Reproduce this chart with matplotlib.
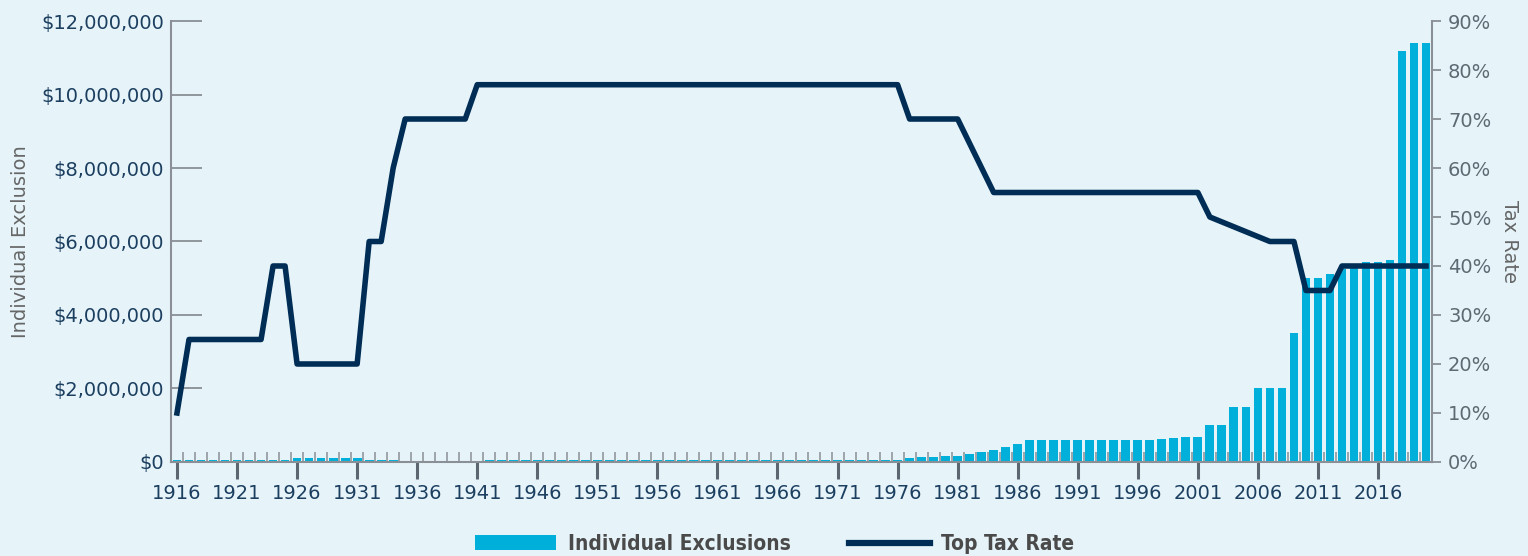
import numpy as np
import matplotlib.pyplot as plt
from matplotlib.ticker import FuncFormatter, FixedLocator
from matplotlib.patches import Patch
from matplotlib.lines import Line2D

# Years 1916-2020
years = list(range(1916, 2021))

# Individual exclusion (dollars), per year
exclusion = (
    [50000] * 10            # 1916-1925
    + [100000] * 6          # 1926-1931
    + [50000] * 3           # 1932-1934
    + [40000] * 7           # 1935-1941
    + [60000] * 35          # 1942-1976
    + [120000, 134000, 147000, 161000, 175000]   # 1977-1981
    + [225000, 275000, 325000, 400000, 500000]   # 1982-1986
    + [600000] * 11         # 1987-1997
    + [625000, 650000, 675000, 675000]           # 1998-2001
    + [1000000, 1000000, 1500000, 1500000]       # 2002-2005
    + [2000000, 2000000, 2000000, 3500000]       # 2006-2009
    + [5000000, 5000000, 5120000, 5250000, 5340000, 5430000, 5450000, 5490000]  # 2010-2017
    + [11180000, 11400000, 11400000]             # 2018-2020
)

# Top tax rate (%), per year
top_rate = (
    [10]
    + [25] * 7              # 1917-1923
    + [40] * 2              # 1924-1925
    + [20] * 6              # 1926-1931
    + [45, 45, 60]          # 1932-1934
    + [70] * 6              # 1935-1940
    + [77] * 36             # 1941-1976
    + [70] * 5              # 1977-1981
    + [65, 60]              # 1982-1983
    + [55] * 18             # 1984-2001
    + [50, 49, 48, 47, 46]  # 2002-2006
    + [45, 45, 45]          # 2007-2009
    + [35, 35, 35]          # 2010-2012
    + [40] * 8              # 2013-2020
)

label_years = list(range(1916, 2017, 5))

bg = "#E6F4FA"
bar_color = "#00B0DA"
line_color = "#002D55"
navy_text = "#1C3F60"
grey_text = "#5E6A72"
spine_grey = "#8A9095"

plt.rcParams["font.family"] = ["DejaVu Sans"]

fig = plt.figure(figsize=(15.28, 5.56), dpi=100, facecolor=bg)
ax = fig.add_axes([0.1119, 0.1691, 0.9372 - 0.1119, 0.9622 - 0.1691])
ax.set_facecolor(bg)

x = np.arange(len(years))
ax.bar(x, exclusion, width=0.73, color=bar_color, zorder=2)
ax.set_xlim(-0.5, len(years) - 0.5)
ax.set_ylim(0, 12000000)
ax.set_yticks(np.arange(0, 12000001, 2000000))
ax.yaxis.set_major_formatter(FuncFormatter(lambda v, p: "${:,.0f}".format(v)))
ax.tick_params(axis="y", direction="in", length=22, width=1.3, color=spine_grey,
               labelsize=14, labelcolor=navy_text, pad=5)

# x axis: major ticks at labelled years, minor ticks between bars
ax.xaxis.set_major_locator(FixedLocator([years.index(y) for y in label_years]))
ax.set_xticklabels([str(y) for y in label_years])
ax.xaxis.set_minor_locator(FixedLocator(np.arange(0.5, len(years) - 1, 1.0)))
ax.tick_params(axis="x", which="major", direction="out", length=12, width=2.2,
               color="#5B6670", labelsize=14, labelcolor=navy_text, pad=4)
ax.tick_params(axis="x", which="minor", direction="in", length=7.5, width=1.1,
               color=spine_grey)

for s in ["top", "right"]:
    ax.spines[s].set_visible(False)
for s in ["left", "bottom"]:
    ax.spines[s].set_color(spine_grey)
    ax.spines[s].set_linewidth(1.5)

ax.set_ylabel("Individual Exclusion", fontsize=14, color="#666666", labelpad=8)

ax2 = ax.twinx()
ax2.plot(x, top_rate, color=line_color, linewidth=4, zorder=3)
ax2.set_ylim(0, 90)
ax2.set_yticks(np.arange(0, 91, 10))
ax2.yaxis.set_major_formatter(FuncFormatter(lambda v, p: "{:.0f}%".format(v)))
ax2.tick_params(axis="y", direction="out", length=6.5, width=1.3, color=spine_grey,
                labelsize=14, labelcolor=grey_text, pad=5)
for s in ["top", "left", "bottom"]:
    ax2.spines[s].set_visible(False)
ax2.spines["right"].set_color(spine_grey)
ax2.spines["right"].set_linewidth(1.5)
ax2.set_ylabel("Tax Rate", fontsize=14, color="#666666", rotation=270, labelpad=20)

handles = [Patch(facecolor=bar_color, edgecolor="none"),
           Line2D([0], [0], color=line_color, linewidth=4.5)]
fig.legend(handles, ["Individual Exclusions", "Top Tax Rate"], loc="lower center",
           bbox_to_anchor=(0.507, -0.03), ncol=2, frameon=False, handlelength=3.9,
           handleheight=0.7, columnspacing=2.8, handletextpad=0.55,
           prop={"family": ["Liberation Sans Narrow", "DejaVu Sans"], "weight": "bold",
                 "stretch": "condensed", "size": 15},
           labelcolor="#4A4A4A")

fig.savefig("out.png", dpi=100, facecolor=bg)
